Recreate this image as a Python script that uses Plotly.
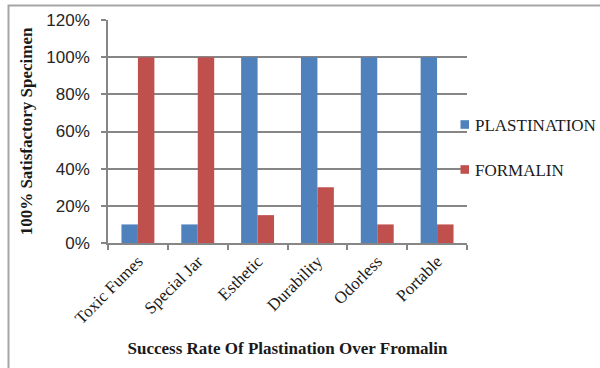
import plotly.graph_objects as go

# Criteria compared between the two preservation methods
categories = ["Toxic Fumes", "Special Jar", "Esthetic", "Durability", "Odorless", "Portable"]
plastination = [0.10, 0.10, 1.00, 1.00, 1.00, 1.00]
formalin = [1.00, 1.00, 0.15, 0.30, 0.10, 0.10]
y_ticks = [0, 0.2, 0.4, 0.6, 0.8, 1.0, 1.2]
series_names = ["PLASTINATION", "FORMALIN"]

BLUE = "#4F81BD"
RED = "#C0504D"
AXIS_GREY = "#868686"
TEXT = "#1a1a1a"
SERIF = "Liberation Serif, Times New Roman, serif"
SANS = "Liberation Sans, Arial, sans-serif"

fig = go.Figure()
for name, vals, col in zip(series_names, [plastination, formalin], [BLUE, RED]):
    fig.add_trace(go.Bar(name=name, x=categories, y=vals, showlegend=False,
                         marker=dict(color=col, line=dict(width=0))))

L, R, T, B = 108, 133, 20, 125
W, H = 600, 368
pw, ph = W - L - R, H - T - B


def px_x(px):
    return (px - L) / pw


def px_y(py):
    return (H - B - py) / ph


# Legend drawn as small square keys with labels to the right of the plot
shapes = [
    dict(type="rect", xref="paper", yref="paper",
         x0=px_x(8.5), x1=px_x(640), y0=px_y(400), y1=px_y(5.5),
         line=dict(color="#A6A6A6", width=2), fillcolor="rgba(0,0,0,0)",
         layer="below"),
]
annotations = []
for name, col, cy in zip(series_names, [BLUE, RED], [124.5, 169.5]):
    shapes.append(dict(type="rect", xref="paper", yref="paper",
                       x0=px_x(460.5), x1=px_x(469), y0=px_y(cy + 4.3), y1=px_y(cy - 4.3),
                       line=dict(width=0), fillcolor=col))
    annotations.append(dict(text=name, xref="paper", yref="paper",
                            x=px_x(473), y=px_y(cy + 0.5), xanchor="left", yanchor="middle",
                            showarrow=False,
                            font=dict(family=SERIF, size=17, color=TEXT)))

fig.update_layout(
    width=W, height=H,
    margin=dict(l=L, r=R, t=T, b=B, pad=0),
    paper_bgcolor="white", plot_bgcolor="white",
    barmode="group", bargap=0.45, bargroupgap=0,
    xaxis=dict(
        showline=True, linecolor=AXIS_GREY, linewidth=1.5,
        ticks="outside", ticklen=5, tickcolor=AXIS_GREY, tickwidth=1.5,
        tickson="boundaries", tickangle=-45,
        tickfont=dict(family=SERIF, size=17, color=TEXT),
        showgrid=False,
        title=dict(text="<b>Success Rate Of Plastination Over Fromalin</b>",
                   font=dict(family=SERIF, size=17, color=TEXT), standoff=15),
    ),
    yaxis=dict(
        range=[0, 1.2], tickvals=y_ticks, tickformat=".0%",
        showline=True, linecolor=AXIS_GREY, linewidth=1.5,
        ticks="outside", ticklen=5, tickcolor=AXIS_GREY, tickwidth=1.5,
        tickfont=dict(family=SANS, size=17, color="#262626"),
        showgrid=True, gridcolor=AXIS_GREY, gridwidth=1.5,
        zeroline=False, ticklabelstandoff=8,
        title=dict(text="<b>100% Satisfactory Specimen</b>",
                   font=dict(family=SERIF, size=17, color=TEXT), standoff=9),
    ),
    shapes=shapes,
    annotations=annotations,
)

fig.write_html("out.html")
